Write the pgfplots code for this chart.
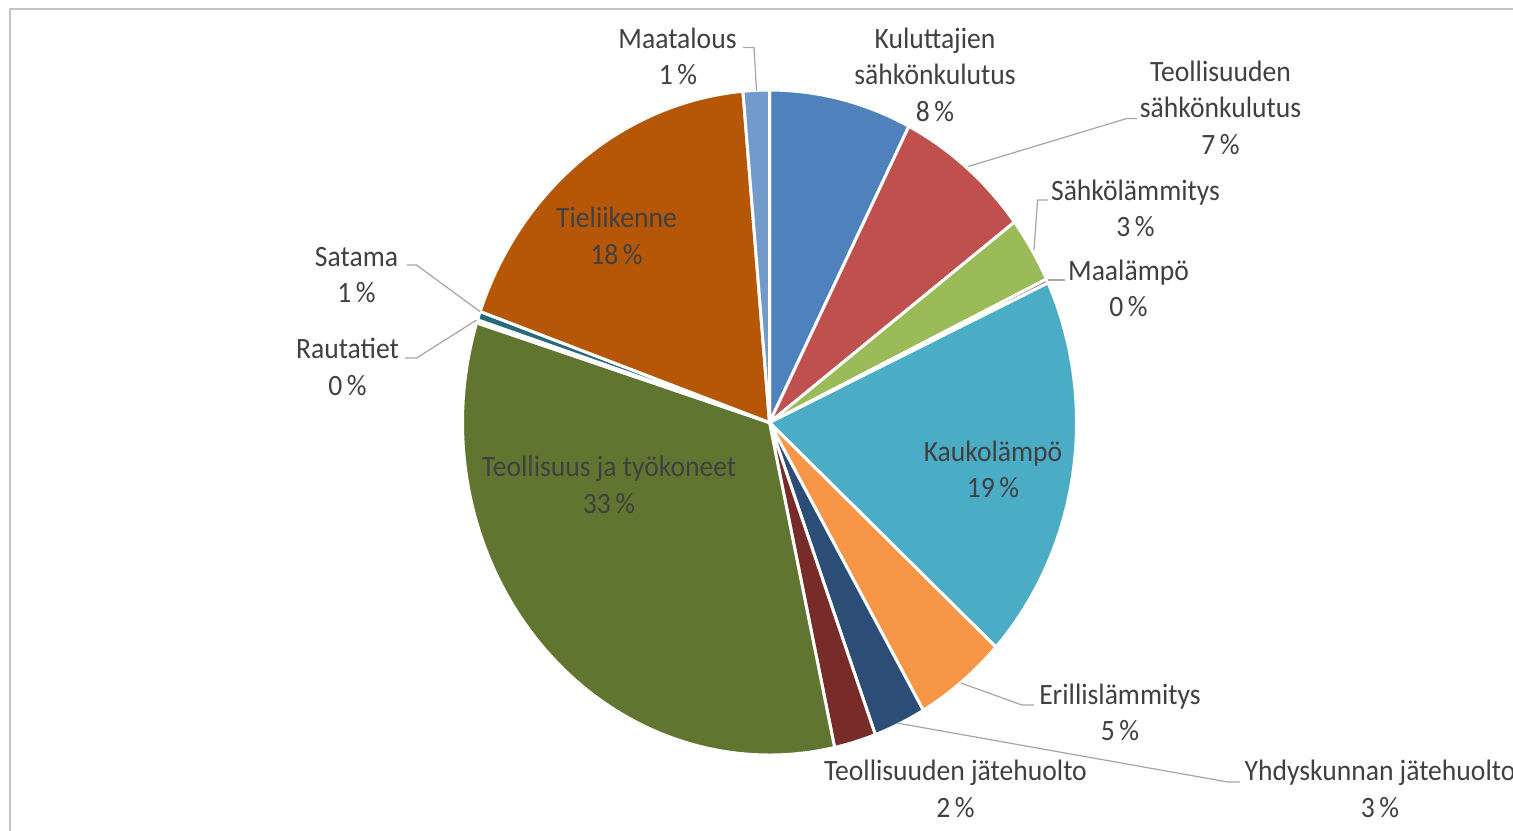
\documentclass[border=0pt]{standalone}
\usepackage{pgfplots}
\pgfplotsset{compat=1.18}
\usepackage{pgfplotstable}
\usepackage{graphicx}
\usepackage{fontspec}
\setmainfont{Carlito}
\definecolor{s1}{HTML}{4F81BD}
\definecolor{s2}{HTML}{C0504D}
\definecolor{s3}{HTML}{9BBB59}
\definecolor{s4}{HTML}{8064A2}
\definecolor{s5}{HTML}{4BACC6}
\definecolor{s6}{HTML}{F79646}
\definecolor{s7}{HTML}{2C4D75}
\definecolor{s8}{HTML}{772C2A}
\definecolor{s9}{HTML}{5F7530}
\definecolor{s10}{HTML}{4D3B62}
\definecolor{s11}{HTML}{276A7C}
\definecolor{s12}{HTML}{B65708}
\definecolor{s13}{HTML}{729ACA}
\definecolor{txt}{HTML}{404040}
\definecolor{leader}{HTML}{A6A6A6}
\definecolor{framec}{HTML}{C4C4C4}
\newcommand\lbl[1]{\scalebox{0.935}[1]{#1}}
% share of each sector, percent, clockwise from 12 o'clock
\pgfplotstableread{
share col
7.50  s1
7.20  s2
3.20  s3
0.20  s4
18.70 s5
4.85  s6
2.75  s7
2.20  s8
33.25 s9
0.15  s10
0.42  s11
18.20 s12
1.38  s13
}\piedata
\gdef\cum{0}
\begin{document}
\begin{tikzpicture}
\useasboundingbox (0,0) rectangle (15.13cm,8.30cm);
\clip (0,0) rectangle (15.13cm,8.30cm);
\begin{axis}[
  at={(0,0)}, anchor=south west,
  scale only axis, width=15.13cm, height=8.30cm,
  xmin=0, xmax=1513, ymin=0, ymax=830, y dir=reverse,
  hide axis, clip=false,
]
\foreach \i in {0,...,12}{%
  \pgfplotstablegetelem{\i}{share}\of\piedata \let\val\pgfplotsretval
  \pgfplotstablegetelem{\i}{col}\of\piedata \let\slicecol\pgfplotsretval
  \pgfmathsetmacro\sa{\cum*3.6}%
  \pgfmathsetmacro\sb{(\cum+\val)*3.6}%
  \edef\tmp{\noexpand\addplot[fill=\slicecol, draw=white, line width=0.85pt, line join=round, domain=\sa:\sb, samples=80] ({769.5+307*sin(x)}, {422.5-332.5*cos(x)}) -- (axis cs:769.5,422.5) -- cycle;}%
  \tmp
  \pgfmathsetmacro\nc{\cum+\val}\xdef\cum{\nc}%
}
% frame
\draw[framec, line width=0.55pt] (axis cs:10,840) -- (axis cs:10,9) -- (axis cs:1530,9);
% leader lines
\begin{scope}[leader, line width=0.35pt]
\draw (axis cs:743,47.5) -- (axis cs:754,47.5) -- (axis cs:756.5,91);
\draw (axis cs:968,166.5) -- (axis cs:1126.5,118.5) -- (axis cs:1137,118.5);
\draw (axis cs:1034,250) -- (axis cs:1037.5,200) -- (axis cs:1048,200);
\draw (axis cs:1048,280) -- (axis cs:1065,280);
\draw (axis cs:480,311.5) -- (axis cs:416.5,265) -- (axis cs:406.5,265);
\draw (axis cs:476.5,320) -- (axis cs:416.5,358) -- (axis cs:405,358);
\draw (axis cs:961,683) -- (axis cs:1022,705) -- (axis cs:1034,705);
\draw (axis cs:897,723) -- (axis cs:1228,782) -- (axis cs:1240,782);
\end{scope}
% labels
\begin{scope}[every node/.style={anchor=base, inner sep=0pt, text=txt, font=\fontsize{8.4}{10}\selectfont}]
\node at (axis cs:677.5,48) {\lbl{Maatalous}};
\node at (axis cs:678,84) {\lbl{1\,\%}};
\node at (axis cs:935,48) {\lbl{Kuluttajien}};
\node at (axis cs:935,84) {\lbl{sähkönkulutus}};
\node at (axis cs:935,121) {\lbl{8\,\%}};
\node at (axis cs:1220.5,81) {\lbl{Teollisuuden}};
\node at (axis cs:1220.5,117.5) {\lbl{sähkönkulutus}};
\node at (axis cs:1220.5,154) {\lbl{7\,\%}};
\node at (axis cs:1135.5,200) {\lbl{Sähkölämmitys}};
\node at (axis cs:1135.5,236.5) {\lbl{3\,\%}};
\node at (axis cs:1128.5,280.5) {\lbl{Maalämpö}};
\node at (axis cs:1128.5,316.5) {\lbl{0\,\%}};
\node at (axis cs:356.5,266) {\lbl{Satama}};
\node at (axis cs:356.5,302.5) {\lbl{1\,\%}};
\node at (axis cs:347.5,358.5) {\lbl{Rautatiet}};
\node at (axis cs:347.5,395) {\lbl{0\,\%}};
\node at (axis cs:616.5,227.5) {\lbl{Tieliikenne}};
\node at (axis cs:616.5,264) {\lbl{18\,\%}};
\node at (axis cs:609,476.5) {\lbl{Teollisuus ja työkoneet}};
\node at (axis cs:609,513) {\lbl{33\,\%}};
\node at (axis cs:993,461) {\lbl{Kaukolämpö}};
\node at (axis cs:993,497.5) {\lbl{19\,\%}};
\node at (axis cs:1120,704) {\lbl{Erillislämmitys}};
\node at (axis cs:1120,740.5) {\lbl{5\,\%}};
\node at (axis cs:955.5,780.5) {\lbl{Teollisuuden jätehuolto}};
\node at (axis cs:955.5,817) {\lbl{2\,\%}};
\node at (axis cs:1380,780.5) {\lbl{Yhdyskunnan jätehuolto}};
\node at (axis cs:1380,817) {\lbl{3\,\%}};
\end{scope}
\end{axis}
\end{tikzpicture}
\end{document}
